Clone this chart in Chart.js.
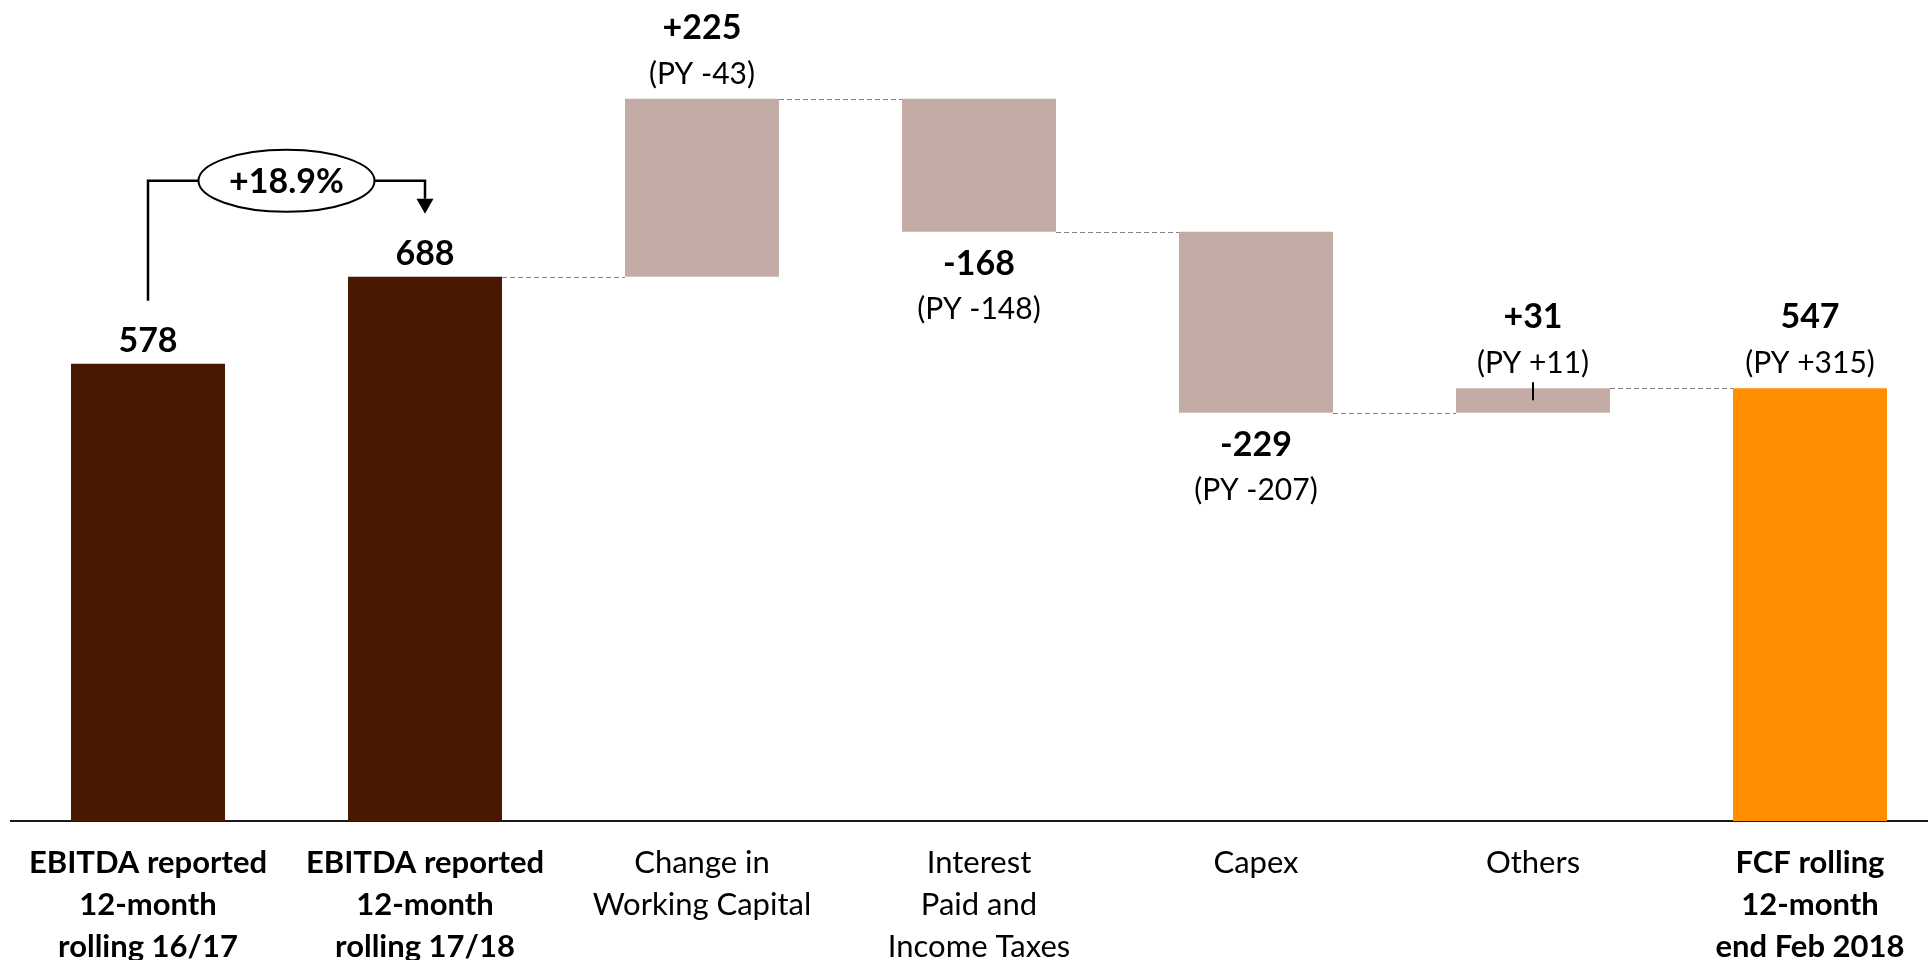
<!DOCTYPE html>
<html>
<head>
<meta charset="utf-8">
<script src="https://cdn.jsdelivr.net/npm/chart.js@4/dist/chart.umd.min.js"></script>
<style>
  html, body { margin: 0; padding: 0; background: #ffffff; }
  #wrap { width: 1928px; height: 960px; }
</style>
</head>
<body>
<div id="wrap"><canvas id="bridge" width="1928" height="960"></canvas></div>
<script>
// Category captions (one entry per bar, split into lines)
const categories = [
  ['EBITDA reported', '12-month', 'rolling 16/17'],
  ['EBITDA reported', '12-month', 'rolling 17/18'],
  ['Change in', 'Working Capital'],
  ['Interest', 'Paid and', 'Income Taxes'],
  ['Capex'],
  ['Others'],
  ['FCF rolling', '12-month', 'end Feb 2018']
];

// EBITDA totals and the free-cash-flow bridge
const ebitdaPrior = 578;
const ebitdaCurrent = 688;
const bridgeChanges = [225, -168, -229, 31];
const fcfRolling = 547;

// Prior-year comparison figures shown under each step
const priorYear = [null, null, -43, -148, -207, 11, 315];

const growthLabel = '+18.9%';

// Which captions are set in bold (the total bars)
const boldCategories = [0, 1, 6];

const FONT = 'Lato, "Open Sans", "DejaVu Sans", sans-serif';
const COLOR_EBITDA = '#481800';
const COLOR_STEP = '#C4ACA6';
const COLOR_FCF = '#FF8F00';

// Floating ranges for the waterfall
const ranges = [[0, ebitdaPrior], [0, ebitdaCurrent]];
let level = ebitdaCurrent;
bridgeChanges.forEach(c => { ranges.push([level, level + c]); level += c; });
ranges.push([0, fcfRolling]);

const barValues = [ebitdaPrior, ebitdaCurrent, ...bridgeChanges, fcfRolling];
const barColors = [COLOR_EBITDA, COLOR_EBITDA, ...bridgeChanges.map(() => COLOR_STEP), COLOR_FCF];

const signed = v => (v > 0 ? '+' : '') + v;

const bridgeOverlay = {
  id: 'bridgeOverlay',
  afterDatasetsDraw(chart) {
    const ctx = chart.ctx;
    const yScale = chart.scales.y;
    const bars = chart.getDatasetMeta(0).data;
    const e = bars.map((b, i) => {
      const p = b.getProps(['x', 'y', 'base', 'width'], true);
      return { x: p.x, left: p.x - p.width / 2, right: p.x + p.width / 2,
               top: Math.min(p.y, p.base), bottom: Math.max(p.y, p.base),
               end: yScale.getPixelForValue(ranges[i][1]) };
    });

    ctx.save();

    // dashed connectors: running total carried from one bar to the next
    ctx.setLineDash([5, 3]);
    ctx.strokeStyle = '#808080';
    ctx.lineWidth = 1.2;
    for (let i = 1; i < e.length - 1; i++) {
      const y = Math.round(e[i].end) + 0.5;
      ctx.beginPath();
      ctx.moveTo(e[i].right, y);
      ctx.lineTo(e[i + 1].left, y);
      ctx.stroke();
    }
    ctx.setLineDash([]);

    // value labels
    ctx.fillStyle = '#000';
    ctx.textAlign = 'center';
    ctx.textBaseline = 'alphabetic';
    const bold = 'bold 34px ' + FONT;
    const regular = '30px ' + FONT;
    e.forEach((b, i) => {
      const v = barValues[i];
      const isStep = i >= 2 && i <= 5;
      const text = isStep ? signed(v) : String(v);
      const py = priorYear[i];
      if (py === null) {
        ctx.font = bold;
        ctx.fillText(text, b.x, b.top - 12);
      } else if (v >= 0) {
        ctx.font = bold;
        ctx.fillText(text, b.x, b.top - 60);
        ctx.font = regular;
        ctx.fillText('(PY ' + signed(py) + ')', b.x, b.top - 15);
      } else {
        ctx.font = bold;
        ctx.fillText(text, b.x, b.bottom + 43);
        ctx.font = regular;
        ctx.fillText('(PY ' + signed(py) + ')', b.x, b.bottom + 87);
      }
    });

    // small marker on the "Others" bar
    ctx.strokeStyle = '#000';
    ctx.lineWidth = 2;
    ctx.beginPath();
    ctx.moveTo(Math.round(e[5].x), e[5].top - 6);
    ctx.lineTo(Math.round(e[5].x), e[5].top + 12);
    ctx.stroke();

    // growth annotation between the two EBITDA bars
    const a = e[0], b = e[1];
    const yH = b.top - 96;
    const yStart = a.top - 63;
    const tipY = b.top - 63;
    const cx = (a.x + b.x) / 2, rx = 88, ry = 31;
    ctx.lineWidth = 2.5;
    ctx.beginPath();
    ctx.moveTo(a.x, yStart);
    ctx.lineTo(a.x, yH);
    ctx.lineTo(cx - rx, yH);
    ctx.moveTo(cx + rx, yH);
    ctx.lineTo(b.x, yH);
    ctx.lineTo(b.x, tipY - 15);
    ctx.stroke();
    ctx.beginPath();
    ctx.moveTo(b.x - 8.5, tipY - 15);
    ctx.lineTo(b.x + 8.5, tipY - 15);
    ctx.lineTo(b.x, tipY);
    ctx.closePath();
    ctx.fillStyle = '#000';
    ctx.fill();

    ctx.beginPath();
    ctx.ellipse(cx, yH, rx, ry, 0, 0, Math.PI * 2);
    ctx.fillStyle = '#fff';
    ctx.fill();
    ctx.lineWidth = 2;
    ctx.strokeStyle = '#000';
    ctx.stroke();
    ctx.fillStyle = '#000';
    ctx.font = bold;
    ctx.fillText(growthLabel, cx, yH + 12);

    ctx.restore();
  }
};

new Chart(document.getElementById('bridge'), {
  type: 'bar',
  data: {
    datasets: [{
      data: ranges.map((r, i) => ({ x: i, y: r })),
      backgroundColor: barColors,
      borderWidth: 0,
      categoryPercentage: 1,
      barPercentage: 0.556
    }]
  },
  options: {
    responsive: false,
    animation: false,
    devicePixelRatio: 1,
    layout: { padding: { left: 11, right: 0, top: 0, bottom: 0 } },
    plugins: { legend: { display: false }, tooltip: { enabled: false } },
    scales: {
      x: {
        type: 'linear',
        offset: false,
        min: -0.4946,
        max: 6.426,
        grid: { display: false, drawTicks: false, offset: false },
        border: { display: true, color: '#1a1a1a', width: 2 },
        afterFit(scale) { scale.height = 139; },
        ticks: {
          stepSize: 1,
          includeBounds: false,
          autoSkip: false,
          maxRotation: 0,
          padding: 21,
          color: '#000',
          callback: v => categories[v],
          font: c => ({
            family: FONT,
            size: 31,
            weight: boldCategories.includes(c.tick && c.tick.value) ? 'bold' : 'normal',
            lineHeight: 1.355
          })
        }
      },
      y: {
        display: false,
        min: 0,
        max: 1038
      }
    }
  },
  plugins: [bridgeOverlay]
});
</script>
</body>
</html>
